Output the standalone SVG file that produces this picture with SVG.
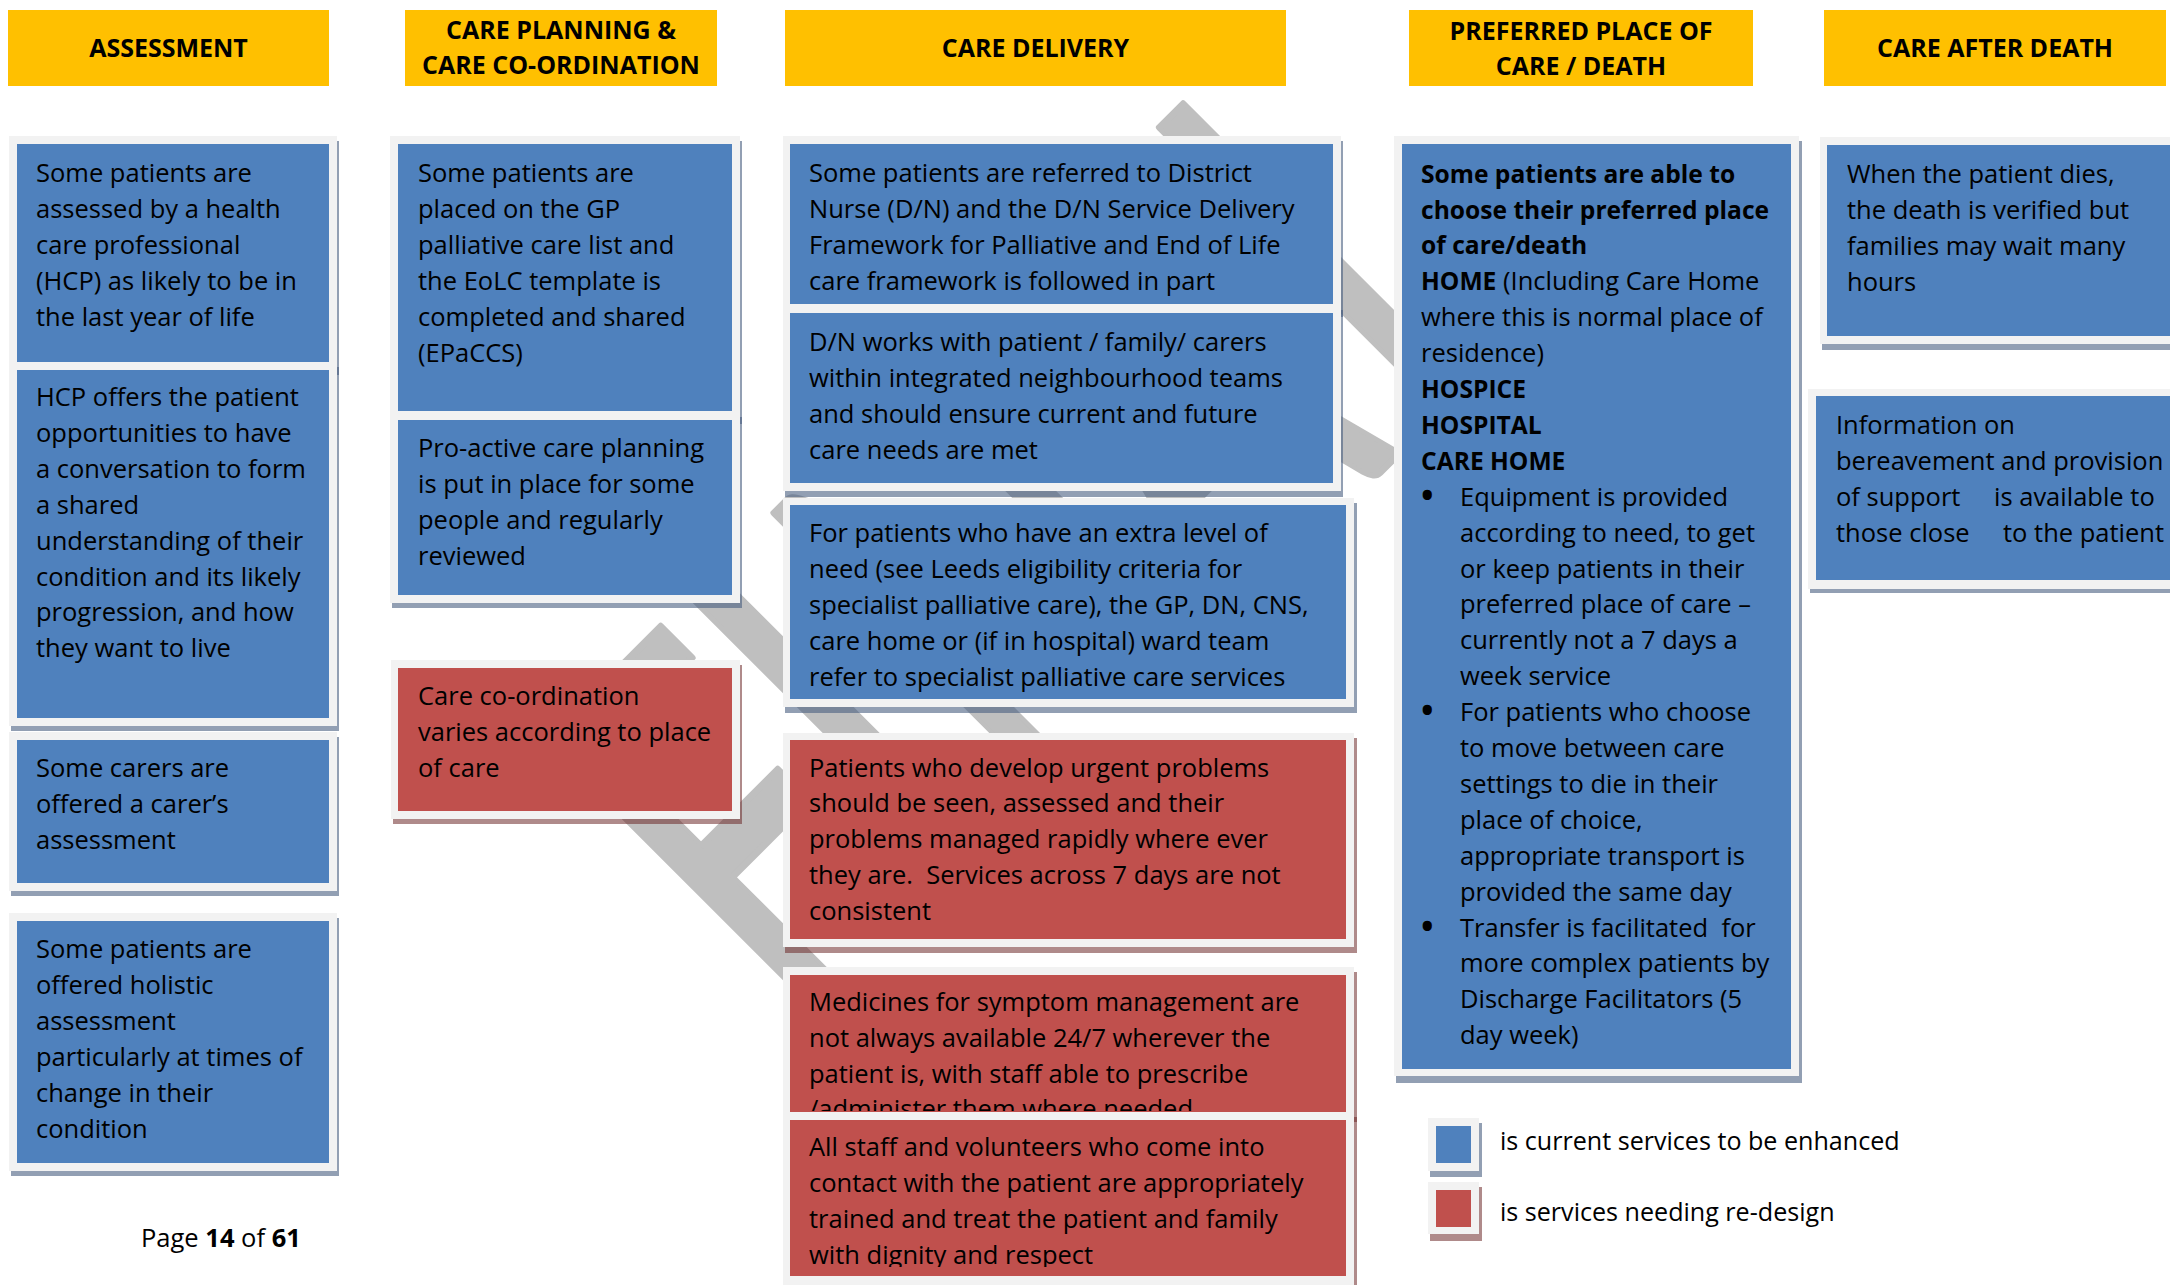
<svg xmlns="http://www.w3.org/2000/svg" width="2170" height="1285" viewBox="0 0 2170 1285">
<style>
.hdr{fill:#FFC000}
.ht{font-family:"Open Sans","Liberation Sans",sans-serif;font-size:25px;font-weight:700;fill:#000;text-anchor:middle}
.frame{fill:#F2F2F2}
.shb{fill:#4A5F80;fill-opacity:.6}
.shr{fill:#6E2A2A;fill-opacity:.55}
.blue{fill:#4F81BD}
.red{fill:#C0504D}
.t{font-family:"Open Sans","Liberation Sans",sans-serif;font-size:25.5px;fill:#000}
.lg{font-size:25.1px}
.b{font-weight:700;font-size:24.6px}
.bul{font-size:44px}
.wm{font-family:Lato,"Liberation Sans",sans-serif;font-size:558px;fill:#BFBFBF;stroke:#BFBFBF;stroke-width:7;stroke-linejoin:round}
</style>
<defs>
<clipPath id="clipC5"><rect x="790" y="975" width="556" height="136"/></clipPath>
<clipPath id="clipC6"><rect x="790" y="1120" width="556" height="147"/></clipPath>
</defs>
<rect width="2170" height="1285" fill="#FFFFFF"/>

<g id="watermark" transform="rotate(-45)">
<text class="wm" transform="scale(0.66,1)" y="1310"><tspan x="-259">F</tspan><tspan x="48.5">I</tspan><tspan x="227">N</tspan><tspan x="638">A</tspan><tspan x="1053">L</tspan></text>
</g>

<g id="headers">
<g id="h-assessment"><rect class="hdr" x="8" y="10" width="321" height="76"/><text class="ht" x="168.5" y="57">ASSESSMENT</text></g>
<g id="h-planning"><rect class="hdr" x="405" y="10" width="312" height="76"/><text class="ht" x="561" y="39">CARE PLANNING &amp;</text><text class="ht" x="561" y="74">CARE CO-ORDINATION</text></g>
<g id="h-delivery"><rect class="hdr" x="785" y="10" width="501" height="76"/><text class="ht" x="1035.5" y="57">CARE DELIVERY</text></g>
<g id="h-preferred"><rect class="hdr" x="1409" y="10" width="344" height="76"/><text class="ht" x="1581" y="40">PREFERRED PLACE OF</text><text class="ht" x="1581" y="75">CARE / DEATH</text></g>
<g id="h-after"><rect class="hdr" x="1824" y="10" width="342" height="76"/><text class="ht" x="1995" y="57">CARE AFTER DEATH</text></g>
</g>

<g id="connectors"></g>

<g id="A1">
<rect class="shb" x="11" y="141" width="328" height="234"/>
<rect class="frame" x="9" y="136" width="328" height="234"/>
<rect class="blue" x="17" y="144" width="312" height="218"/>
<text class="t"><tspan x="36" y="182">Some patients are</tspan><tspan x="36" y="217.9">assessed by a health</tspan><tspan x="36" y="253.8">care professional</tspan><tspan x="36" y="289.7">(HCP) as likely to be in</tspan><tspan x="36" y="325.6">the last year of life</tspan></text>
</g>
<g id="A2">
<rect class="shb" x="11" y="367" width="328" height="364"/>
<rect class="frame" x="9" y="362" width="328" height="364"/>
<rect class="blue" x="17" y="370" width="312" height="348"/>
<text class="t"><tspan x="36" y="406">HCP offers the patient</tspan><tspan x="36" y="441.9">opportunities to have</tspan><tspan x="36" y="477.8">a conversation to form</tspan><tspan x="36" y="513.7">a shared</tspan><tspan x="36" y="549.6">understanding of their</tspan><tspan x="36" y="585.5">condition and its likely</tspan><tspan x="36" y="621.4">progression, and how</tspan><tspan x="36" y="657.3">they want to live</tspan></text>
</g>
<g id="A3">
<rect class="shb" x="11" y="737" width="328" height="159"/>
<rect class="frame" x="9" y="732" width="328" height="159"/>
<rect class="blue" x="17" y="740" width="312" height="143"/>
<text class="t"><tspan x="36" y="777">Some carers are</tspan><tspan x="36" y="812.9">offered a carer’s</tspan><tspan x="36" y="848.8">assessment</tspan></text>
</g>
<g id="A4">
<rect class="shb" x="11" y="918" width="328" height="258"/>
<rect class="frame" x="9" y="913" width="328" height="258"/>
<rect class="blue" x="17" y="921" width="312" height="242"/>
<text class="t"><tspan x="36" y="958">Some patients are</tspan><tspan x="36" y="993.9">offered holistic</tspan><tspan x="36" y="1029.8">assessment</tspan><tspan x="36" y="1065.7">particularly at times of</tspan><tspan x="36" y="1101.6">change in their</tspan><tspan x="36" y="1137.5">condition</tspan></text>
</g>

<g id="B1">
<rect class="shb" x="392" y="141" width="350" height="283"/>
<rect class="frame" x="390" y="136" width="350" height="283"/>
<rect class="blue" x="398" y="144" width="334" height="267"/>
<text class="t"><tspan x="418" y="182">Some patients are</tspan><tspan x="418" y="217.9">placed on the GP</tspan><tspan x="418" y="253.8">palliative care list and</tspan><tspan x="418" y="289.7">the EoLC template is</tspan><tspan x="418" y="325.6">completed and shared</tspan><tspan x="418" y="361.5">(EPaCCS)</tspan></text>
</g>
<g id="B2">
<rect class="shb" x="392" y="417" width="350" height="191"/>
<rect class="frame" x="390" y="412" width="350" height="191"/>
<rect class="blue" x="398" y="420" width="334" height="175"/>
<text class="t"><tspan x="418" y="457">Pro-active care planning</tspan><tspan x="418" y="492.9">is put in place for some</tspan><tspan x="418" y="528.8">people and regularly</tspan><tspan x="418" y="564.7">reviewed</tspan></text>
</g>
<g id="B3">
<rect class="shr" x="393" y="665" width="349" height="159"/>
<rect class="frame" x="391" y="660" width="349" height="159"/>
<rect class="red" x="398" y="668" width="334" height="143"/>
<text class="t"><tspan x="418" y="705">Care co-ordination</tspan><tspan x="418" y="740.9">varies according to place</tspan><tspan x="418" y="776.8">of care</tspan></text>
</g>

<g id="C1">
<rect class="shb" x="785" y="141" width="558" height="176"/>
<rect class="frame" x="783" y="136" width="558" height="176"/>
<rect class="blue" x="790" y="144" width="543" height="160"/>
<text class="t"><tspan x="809" y="182">Some patients are referred to District</tspan><tspan x="809" y="217.9">Nurse (D/N) and the D/N Service Delivery</tspan><tspan x="809" y="253.8">Framework for Palliative and End of Life</tspan><tspan x="809" y="289.7">care framework is followed in part</tspan></text>
</g>
<g id="C2">
<rect class="shb" x="785" y="310" width="558" height="187"/>
<rect class="frame" x="783" y="305" width="558" height="186"/>
<rect class="blue" x="790" y="313" width="543" height="170"/>
<text class="t"><tspan x="809" y="351">D/N works with patient / family/ carers</tspan><tspan x="809" y="386.9">within integrated neighbourhood teams</tspan><tspan x="809" y="422.8">and should ensure current and future</tspan><tspan x="809" y="458.7">care needs are met</tspan></text>
</g>
<g id="C3">
<rect class="shb" x="785" y="503" width="572" height="210"/>
<rect class="frame" x="783" y="498" width="571" height="209"/>
<rect class="blue" x="790" y="505" width="556" height="194"/>
<text class="t"><tspan x="809" y="542">For patients who have an extra level of</tspan><tspan x="809" y="577.9">need (see Leeds eligibility criteria for</tspan><tspan x="809" y="613.8">specialist palliative care), the GP, DN, CNS,</tspan><tspan x="809" y="649.7">care home or (if in hospital) ward team</tspan><tspan x="809" y="685.6">refer to specialist palliative care services</tspan></text>
</g>
<g id="C4">
<rect class="shr" x="785" y="738" width="572" height="215"/>
<rect class="frame" x="783" y="733" width="571" height="214"/>
<rect class="red" x="790" y="740" width="556" height="199"/>
<text class="t"><tspan x="809" y="776.5">Patients who develop urgent problems</tspan><tspan x="809" y="812.4">should be seen, assessed and their</tspan><tspan x="809" y="848.3">problems managed rapidly where ever</tspan><tspan x="809" y="884.2" xml:space="preserve">they are.  Services across 7 days are not</tspan><tspan x="809" y="920.1">consistent</tspan></text>
</g>
<g id="C5">
<rect class="shr" x="785" y="972" width="572" height="150"/>
<rect class="frame" x="783" y="967" width="571" height="150"/>
<rect class="red" x="790" y="975" width="556" height="140"/>
<text class="t" clip-path="url(#clipC5)"><tspan x="809" y="1010.7">Medicines for symptom management are</tspan><tspan x="809" y="1046.6">not always available 24/7 wherever the</tspan><tspan x="809" y="1082.5">patient is, with staff able to prescribe</tspan><tspan x="809" y="1118.4">/administer them where needed</tspan></text>
</g>
<g id="C6">
<rect class="shr" x="785" y="1117" width="572" height="173"/>
<rect class="frame" x="783" y="1112" width="571" height="173"/>
<rect class="red" x="790" y="1120" width="556" height="156"/>
<text class="t" clip-path="url(#clipC6)"><tspan x="809" y="1156">All staff and volunteers who come into</tspan><tspan x="809" y="1191.9">contact with the patient are appropriately</tspan><tspan x="809" y="1227.8">trained and treat the patient and family</tspan><tspan x="809" y="1263.7">with dignity and respect</tspan></text>
</g>

<g id="D1">
<rect class="shb" x="1396" y="141" width="406" height="942"/>
<rect class="frame" x="1394" y="136" width="405" height="940"/>
<rect class="blue" x="1402" y="144" width="389" height="925"/>
<text class="t">
<tspan class="b" x="1421" y="182.6">Some patients are able to</tspan>
<tspan class="b" x="1421" y="218.5">choose their preferred place</tspan>
<tspan class="b" x="1421" y="254.4">of care/death</tspan>
<tspan class="b" x="1421" y="290.3">HOME</tspan><tspan> (Including Care Home</tspan>
<tspan x="1421" y="326.2">where this is normal place of</tspan>
<tspan x="1421" y="362.1">residence)</tspan>
<tspan class="b" x="1421" y="398">HOSPICE</tspan>
<tspan class="b" x="1421" y="433.9">HOSPITAL</tspan>
<tspan class="b" x="1421" y="469.8">CARE HOME</tspan>
<tspan class="bul" x="1419" y="511">•</tspan><tspan x="1460" y="505.7">Equipment is provided</tspan>
<tspan x="1460" y="541.6">according to need, to get</tspan>
<tspan x="1460" y="577.5">or keep patients in their</tspan>
<tspan x="1460" y="613.4">preferred place of care –</tspan>
<tspan x="1460" y="649.3">currently not a 7 days a</tspan>
<tspan x="1460" y="685.2">week service</tspan>
<tspan class="bul" x="1419" y="726.4">•</tspan><tspan x="1460" y="721.1">For patients who choose</tspan>
<tspan x="1460" y="757">to move between care</tspan>
<tspan x="1460" y="792.9">settings to die in their</tspan>
<tspan x="1460" y="828.8">place of choice,</tspan>
<tspan x="1460" y="864.7">appropriate transport is</tspan>
<tspan x="1460" y="900.6">provided the same day</tspan>
<tspan class="bul" x="1419" y="941.8">•</tspan><tspan x="1460" y="936.5" xml:space="preserve">Transfer is facilitated  for</tspan>
<tspan x="1460" y="972.4">more complex patients by</tspan>
<tspan x="1460" y="1008.3">Discharge Facilitators (5</tspan>
<tspan x="1460" y="1044.2">day week)</tspan>
</text>
</g>

<g id="E1">
<rect class="shb" x="1822" y="142" width="360" height="208"/>
<rect class="frame" x="1820" y="137" width="360" height="207"/>
<rect class="blue" x="1827" y="145" width="353" height="191"/>
<text class="t"><tspan x="1847" y="183">When the patient dies,</tspan><tspan x="1847" y="218.9">the death is verified but</tspan><tspan x="1847" y="254.8">families may wait many</tspan><tspan x="1847" y="290.7">hours</tspan></text>
</g>
<g id="E2">
<rect class="shb" x="1810" y="394" width="370" height="199"/>
<rect class="frame" x="1808" y="389" width="372" height="200"/>
<rect class="blue" x="1816" y="396" width="364" height="184"/>
<text class="t"><tspan x="1836" y="434">Information on</tspan><tspan x="1836" y="469.9">bereavement and provision</tspan><tspan x="1836" y="505.8">of support</tspan><tspan x="1994" y="505.8">is available to</tspan><tspan x="1836" y="541.7">those close</tspan><tspan x="2003" y="541.7">to the patient</tspan></text>
</g>

<g id="legend">
<g id="legend-blue">
<rect class="shb" x="1430" y="1123" width="52" height="54"/>
<rect class="frame" x="1428" y="1118" width="51" height="53"/>
<rect class="blue" x="1436" y="1126" width="35" height="37"/>
<text class="t lg" x="1500" y="1150">is current services to be enhanced</text>
</g>
<g id="legend-red">
<rect class="shr" x="1430" y="1187" width="52" height="54"/>
<rect class="frame" x="1428" y="1182" width="51" height="52"/>
<rect class="red" x="1436" y="1190" width="35" height="37"/>
<text class="t lg" x="1500" y="1221">is services needing re-design</text>
</g>
</g>

<g id="page">
<text class="t" x="141" y="1247">Page <tspan style="font-weight:700">14</tspan> of <tspan style="font-weight:700">61</tspan></text>
</g>
</svg>
